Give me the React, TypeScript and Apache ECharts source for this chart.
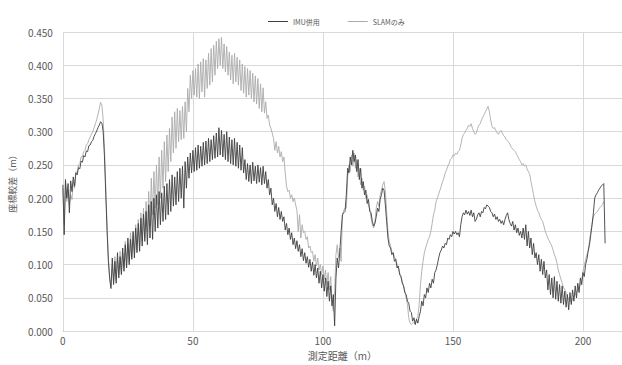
import React, { useEffect, useRef } from "react";
import * as echarts from "echarts";

// Sampling step along the measured distance (m)
const STEP_M = 0.5;

// 座標較差 values in millimetres, one every 0.5 m
const IMU_0_50 = [
  220, 145, 228, 200, 222, 178, 226, 210, 232, 218,
  238, 235, 246, 244, 256, 254, 264, 262, 271, 270,
  279, 280, 285, 287, 293, 297, 301, 306, 310, 315,
  313, 300, 262, 205, 150, 105, 78, 64, 110, 70,
  105, 72, 118, 80, 112, 85, 125, 90, 130, 95,
  140, 100, 138, 108, 150, 110, 155, 118, 162, 120,
  170, 128, 176, 135, 180, 130, 190, 140, 195, 138,
  200, 150, 205, 155, 210, 160, 208, 165, 218, 168,
  222, 175, 228, 180, 235, 188, 232, 190, 240, 195,
  245, 200, 248, 185, 255, 215, 262, 230, 268, 238,
];
const IMU_50_100 = [
  272, 240, 276, 242, 280, 245, 278, 248, 284, 250,
  286, 252, 290, 255, 288, 258, 294, 260, 298, 262,
  306, 265, 302, 262, 296, 258, 300, 255, 292, 252,
  288, 250, 290, 248, 284, 245, 280, 242, 276, 238,
  258, 228, 252, 225, 250, 222, 254, 226, 248, 222,
  250, 224, 246, 220, 248, 222, 240, 215, 228, 205,
  215, 190, 200, 180, 192, 172, 186, 168, 180, 165,
  172, 152, 162, 145, 155, 138, 148, 130, 140, 124,
  136, 120, 130, 112, 124, 106, 118, 102, 112, 96,
  108, 90, 104, 84, 100, 80, 95, 72, 90, 65,
];
const IMU_100_150 = [
  85, 60, 80, 52, 75, 45, 68, 38, 55, 8,
  80, 110, 95, 120, 150, 175, 178, 180, 205, 245,
  238, 262, 250, 272, 255, 265, 240, 258, 228, 245,
  215, 225, 205, 212, 192, 198, 180, 178, 165, 158,
  162, 172, 185, 180, 198, 205, 215, 212, 190, 165,
  140, 128, 125, 115, 118, 105, 108, 95, 98, 85,
  82, 72, 68, 58, 55, 45, 42, 30, 28, 15,
  20, 10, 18, 12, 22, 30, 45, 38, 55, 50,
  65, 58, 72, 65, 78, 72, 88, 92, 100, 110,
  118, 122, 128, 125, 132, 130, 140, 138, 145, 142,
];
const IMU_150_200 = [
  150, 146, 150, 145, 148, 142, 160, 172, 178, 175,
  182, 176, 180, 174, 182, 172, 178, 165, 168, 175,
  178, 172, 180, 178, 186, 184, 190, 188, 186, 180,
  178, 172, 176, 168, 172, 165, 168, 162, 166, 160,
  168, 174, 178, 168, 162, 158, 165, 152, 160, 148,
  155, 144, 150, 140, 155, 138, 160, 128, 150, 125,
  140, 115, 132, 110, 118, 100, 115, 90, 108, 85,
  105, 80, 92, 62, 85, 55, 80, 50, 82, 48,
  75, 45, 70, 42, 68, 40, 60, 36, 55, 32,
  58, 40, 62, 45, 68, 50, 72, 58, 80, 70,
];
const IMU_200_END = [
  88, 82, 100, 108, 120, 130, 145, 160, 178, 200,
  205, 208, 212, 215, 218, 220, 222, 132,
];

const SLAM_0_50 = [
  215, 160, 222, 195, 212, 190, 205, 198, 225, 215,
  240, 238, 250, 252, 262, 262, 270, 272, 280, 282,
  288, 292, 296, 300, 306, 312, 318, 326, 335, 344,
  340, 318, 272, 215, 158, 110, 82, 68, 100, 75,
  112, 78, 108, 85, 120, 88, 118, 95, 135, 100,
  132, 105, 148, 112, 145, 118, 160, 122, 168, 128,
  178, 135, 185, 140, 195, 150, 210, 160, 230, 175,
  240, 185, 250, 190, 262, 200, 272, 215, 285, 225,
  295, 240, 305, 255, 322, 268, 330, 275, 335, 285,
  332, 288, 338, 290, 345, 300, 365, 330, 385, 350,
];
const SLAM_50_100 = [
  392, 355, 395, 352, 402, 350, 405, 360, 410, 352,
  408, 365, 418, 370, 425, 375, 430, 385, 436, 395,
  440, 400, 442, 395, 432, 390, 428, 385, 420, 378,
  415, 372, 418, 375, 412, 370, 408, 362, 402, 358,
  398, 352, 395, 355, 392, 350, 388, 345, 384, 342,
  380, 335, 372, 330, 366, 328, 345, 320, 325, 310,
  305, 298, 290, 272, 285, 268, 278, 262, 270, 255,
  262, 238, 218, 210, 212, 200, 205, 195, 200, 190,
  182, 150, 175, 140, 160, 148, 150, 138, 142, 125,
  128, 118, 120, 105, 115, 98, 110, 92, 100, 85,
];
const SLAM_100_150 = [
  98, 78, 92, 70, 88, 62, 82, 40, 30, 60,
  115, 130, 110, 125, 105, 175, 182, 185, 185, 230,
  250, 240, 265, 248, 268, 245, 258, 232, 245, 220,
  230, 212, 218, 200, 205, 188, 185, 170, 160, 155,
  165, 185, 195, 188, 205, 212, 220, 225, 210, 180,
  150, 135, 128, 120, 118, 112, 108, 100, 95, 88,
  82, 75, 68, 60, 50, 40, 20, 12, 10, 12,
  14, 10, 18, 22, 40, 70, 90, 105, 118, 125,
  132, 138, 142, 150, 162, 175, 182, 195, 200, 206,
  212, 218, 225, 230, 238, 242, 248, 252, 258, 260,
];
const SLAM_150_200 = [
  265, 264, 268, 266, 270, 272, 280, 290, 296, 298,
  302, 305, 310, 308, 312, 305, 300, 296, 298, 305,
  310, 312, 318, 322, 326, 330, 334, 338, 330, 318,
  308, 305, 306, 302, 298, 296, 300, 302, 298, 294,
  292, 288, 286, 284, 280, 276, 274, 272, 270, 266,
  262, 258, 255, 250, 252, 248, 250, 244, 240, 236,
  225, 215, 205, 195, 188, 182, 178, 172, 168, 165,
  158, 150, 145, 140, 136, 132, 128, 122, 115, 110,
  102, 92, 85, 78, 72, 66, 62, 58, 52, 48,
  46, 44, 48, 52, 55, 58, 62, 66, 70, 76,
];
const SLAM_200_END = [
  90, 98, 108, 115, 122, 135, 150, 162, 172, 176,
  178, 180, 183, 186, 188, 190, 195,
];

const IMU_SEGMENTS = [
  { startM: 0, values: IMU_0_50 },
  { startM: 50, values: IMU_50_100 },
  { startM: 100, values: IMU_100_150 },
  { startM: 150, values: IMU_150_200 },
  { startM: 200, values: IMU_200_END },
];
const SLAM_SEGMENTS = [
  { startM: 0, values: SLAM_0_50 },
  { startM: 50, values: SLAM_50_100 },
  { startM: 100, values: SLAM_100_150 },
  { startM: 150, values: SLAM_150_200 },
  { startM: 200, values: SLAM_200_END },
];

const SERIES_NAMES = ["IMU併用", "SLAMのみ"];
const X_TICK_INTERVAL = 50;
const Y_TICK_INTERVAL = 0.05;

function toPoints(segments: { startM: number; values: number[] }[]) {
  const pts: number[][] = [];
  segments.forEach((seg) => {
    seg.values.forEach((mm, i) => {
      pts.push([seg.startM + i * STEP_M, mm / 1000]);
    });
  });
  return pts;
}

const FONT = "'Noto Sans CJK JP', 'Noto Sans', sans-serif";
const TEXT_COLOR = "#595959";
const GRID_COLOR = "#d9d9d9";
const IMU_COLOR = "#404040";
const SLAM_COLOR = "#ababab";

export default function App() {
  const ref = useRef<HTMLDivElement>(null);

  useEffect(() => {
    document.body.style.margin = "0";
    if (!ref.current) return;
    const chart = echarts.init(ref.current, undefined, { renderer: "svg" });
    chart.setOption({
      animation: false,
      backgroundColor: "#ffffff",
      textStyle: { fontFamily: FONT },
      legend: {
        top: 13,
        left: 263,
        icon: "rect",
        itemWidth: 20,
        itemHeight: 1,
        itemGap: 28,
        textStyle: { fontSize: 7, color: TEXT_COLOR, fontFamily: FONT },
        data: SERIES_NAMES,
      },
      grid: { left: 59, right: -5, top: 32, bottom: 29, containLabel: false },
      xAxis: {
        type: "value",
        min: 0,
        max: 215,
        interval: X_TICK_INTERVAL,
        name: "測定距離（m）",
        nameLocation: "middle",
        nameGap: 15,
        nameTextStyle: { fontSize: 10, color: TEXT_COLOR, fontFamily: FONT },
        axisLine: { show: true, lineStyle: { color: GRID_COLOR, width: 1 } },
        axisTick: { show: false },
        axisLabel: {
          fontSize: 10,
          color: TEXT_COLOR,
          margin: 4,
          showMaxLabel: false,
          fontFamily: FONT,
        },
        splitLine: { show: true, lineStyle: { color: GRID_COLOR, width: 1 } },
      },
      yAxis: {
        type: "value",
        min: 0,
        max: 0.45,
        interval: Y_TICK_INTERVAL,
        name: "座標較差（m）",
        nameLocation: "middle",
        nameRotate: 90,
        nameGap: 43,
        nameTextStyle: { fontSize: 9, color: TEXT_COLOR, fontFamily: FONT },
        axisLine: { show: false },
        axisTick: { show: false },
        axisLabel: {
          fontSize: 10,
          color: TEXT_COLOR,
          margin: 10,
          fontFamily: FONT,
          formatter: (v: number) => v.toFixed(3),
        },
        splitLine: { show: true, lineStyle: { color: GRID_COLOR, width: 1 } },
      },
      series: [
        {
          name: SERIES_NAMES[0],
          type: "line",
          data: toPoints(IMU_SEGMENTS),
          symbol: "none",
          z: 3,
          lineStyle: { color: IMU_COLOR, width: 0.9 },
          itemStyle: { color: IMU_COLOR },
        },
        {
          name: SERIES_NAMES[1],
          type: "line",
          data: toPoints(SLAM_SEGMENTS),
          symbol: "none",
          z: 2,
          lineStyle: { color: SLAM_COLOR, width: 0.9 },
          itemStyle: { color: SLAM_COLOR },
        },
      ],
    });
    return () => chart.dispose();
  }, []);

  return <div ref={ref} style={{ width: 622, height: 365 }} />;
}
